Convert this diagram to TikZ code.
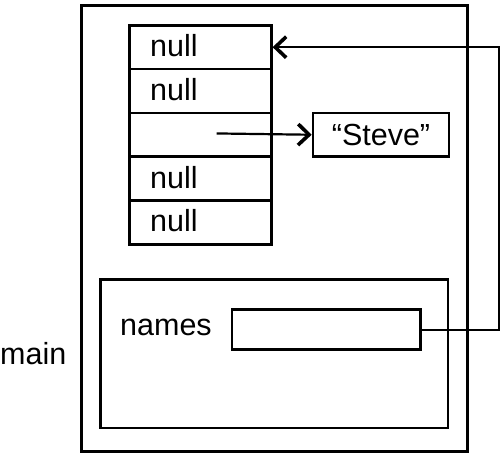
\documentclass[tikz,border=0pt]{standalone}
\usepackage{fontspec}
\setmainfont{Liberation Sans}
\usetikzlibrary{arrows.meta}
\begin{document}
\begin{tikzpicture}[x=1pt,y=-1pt,
  box/.style={draw, line width=2.6pt, inner sep=0pt, anchor=north west},
  cell/.style={box, minimum width=142pt, minimum height=43.8pt},
  lbl/.style={font=\fontsize{30.5}{33}\selectfont, inner sep=0pt},
  link/.style={line width=2.2pt, -{Straight Barb[length=11pt,width=21pt,line width=3.6pt]}}]
\useasboundingbox (0,0) rectangle (500,452);
\node[box, minimum width=386pt, minimum height=446pt] (outer) at (80,4) {};
\node[cell] (c1) at (128,24) {};
\node[cell] (c2) at (128,67.8) {};
\node[cell] (c3) at (128,111.6) {};
\node[cell] (c4) at (128,155.4) {};
\node[cell] (c5) at (128,199.2) {};
\node[lbl, anchor=base west] (t1) at (150,56.7) {null};
\node[lbl, anchor=base west] (t2) at (150,100.5) {null};
\node[lbl, anchor=base west] (t4) at (150,188.1) {null};
\node[lbl, anchor=base west] (t5) at (150,231.9) {null};
\node[box, minimum width=136pt, minimum height=43.5pt] (steve) at (311.7,111.7) {};
\node[lbl] (stevetext) at (steve.center) {“Steve”};
\node[box, minimum width=347.4pt, minimum height=148.4pt] (frame) at (99.3,278.3) {};
\node[box, minimum width=188.6pt, minimum height=40pt] (namesbox) at (230.7,308.3) {};
\node[lbl, anchor=base west] (namestext) at (120,335) {names};
\node[lbl, anchor=base west] (maintext) at (0,364) {main};
\coordinate (p) at (216.7,133.45);
\draw[link] (p) -- (steve.west);
\draw[link] (namesbox.east) -- ++(77,0) |- (c1.east);
\end{tikzpicture}
\end{document}
